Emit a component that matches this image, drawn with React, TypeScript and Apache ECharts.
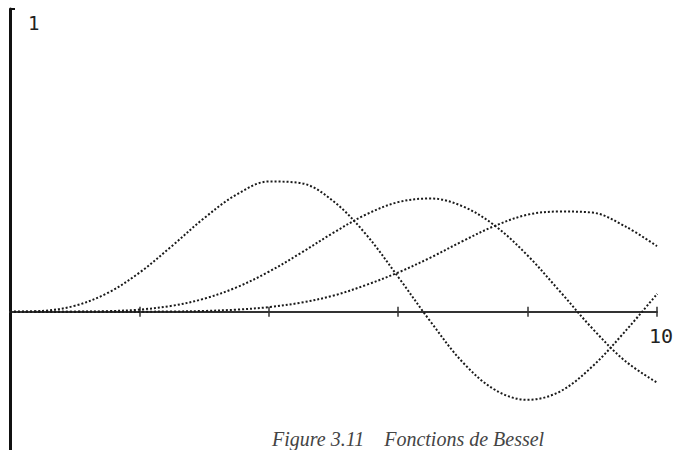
import React, { useEffect, useRef } from "react";
import * as echarts from "echarts";

const xValues = [0, 0.5, 1, 1.5, 2, 2.5, 3, 3.5, 4, 4.5, 5, 5.5, 6, 6.5, 7, 7.5, 8, 8.5, 9, 9.5, 10];
const curveA = [0, 0.0026, 0.0196, 0.061, 0.1289, 0.2166, 0.3091, 0.3868, 0.4302, 0.4247, 0.3648, 0.2561, 0.1148, -0.0327, -0.1676, -0.2584, -0.2911, -0.2636, -0.1809, -0.0667, 0.0584];
const curveB = [0, 0.00001, 0.0003, 0.0018, 0.007, 0.0195, 0.043, 0.0804, 0.1321, 0.1947, 0.2611, 0.3209, 0.3621, 0.3741, 0.3479, 0.2835, 0.1858, 0.0671, -0.055, -0.1613, -0.2341];
const curveC = [0, 0, 0.000002, 0.00002, 0.0002, 0.0008, 0.0026, 0.0069, 0.0152, 0.0301, 0.0534, 0.0881, 0.1296, 0.1789, 0.2336, 0.2843, 0.3206, 0.331, 0.3275, 0.283, 0.2167];
const yTickLabels = [1];
const xTickLabels = [10];
const xTicks = [2, 4, 6, 8, 10];
const caption = "Figure 3.11    Fonctions de Bessel";

const pairs = (ys: number[]) => xValues.map((x, i) => [x, ys[i]]);

export default function App() {
  const ref = useRef<HTMLDivElement>(null);
  useEffect(() => {
    const chart = echarts.init(ref.current!, undefined, { renderer: "svg" });
    const lineStyle = { color: "#1a1a1a", width: 2, type: "dotted" as const };
    const mk = (name: string, ys: number[]) => ({
      name,
      type: "line",
      data: pairs(ys),
      smooth: 0.35,
      showSymbol: false,
      lineStyle,
      clip: false,
    });
    chart.setOption({
      animation: false,
      backgroundColor: "#ffffff",
      grid: { left: 10, top: 9, width: 647, height: 442, outerBoundsMode: "none", containLabel: false },
      xAxis: [
        {
          type: "value",
          min: 0,
          max: 10,
          position: "bottom",
          offset: -139.3,
          axisLine: { onZero: false, lineStyle: { color: "#333", width: 2 } },
          axisTick: { show: true, customValues: xTicks, length: 5, lineStyle: { color: "#333", width: 1.5 } },
          axisLabel: {
            show: true,
            customValues: xTickLabels,
            margin: 14,
            fontFamily: "DejaVu Sans Mono",
            fontSize: 20,
            color: "#222",
            align: "left",
            padding: [0, 0, 0, -8],
          },
          splitLine: { show: false },
        },
        {
          type: "value",
          min: 0,
          max: 10,
          position: "top",
          offset: -302.7,
          axisLine: { show: false, onZero: false },
          axisTick: { show: true, customValues: xTicks, length: 5, lineStyle: { color: "#333", width: 1.5 } },
          axisLabel: { show: false },
          splitLine: { show: false },
        },
      ],
      yAxis: {
        type: "value",
        min: -0.46,
        max: 1,
        axisLine: { show: true, onZero: false, lineStyle: { color: "#111", width: 3 } },
        axisTick: { show: true, inside: true, customValues: [1], length: 5, lineStyle: { color: "#111", width: 2 } },
        axisLabel: {
          show: true,
          inside: true,
          customValues: yTickLabels,
          margin: 18,
          verticalAlign: "top",
          padding: [4, 0, 0, 0],
          fontFamily: "DejaVu Sans Mono",
          fontSize: 19,
          color: "#222",
        },
        splitLine: { show: false },
      },
      series: [mk("A", curveA), mk("B", curveB), mk("C", curveC)],
      graphic: [
        {
          type: "text",
          left: 272,
          top: 429,
          style: {
            text: caption,
            font: "italic 20px 'Liberation Serif'",
            fill: "#444",
          },
        },
      ],
    });
    return () => chart.dispose();
  }, []);
  return <div ref={ref} style={{ width: 684, height: 450, position: "fixed", left: 0, top: 0 }} />;
}
